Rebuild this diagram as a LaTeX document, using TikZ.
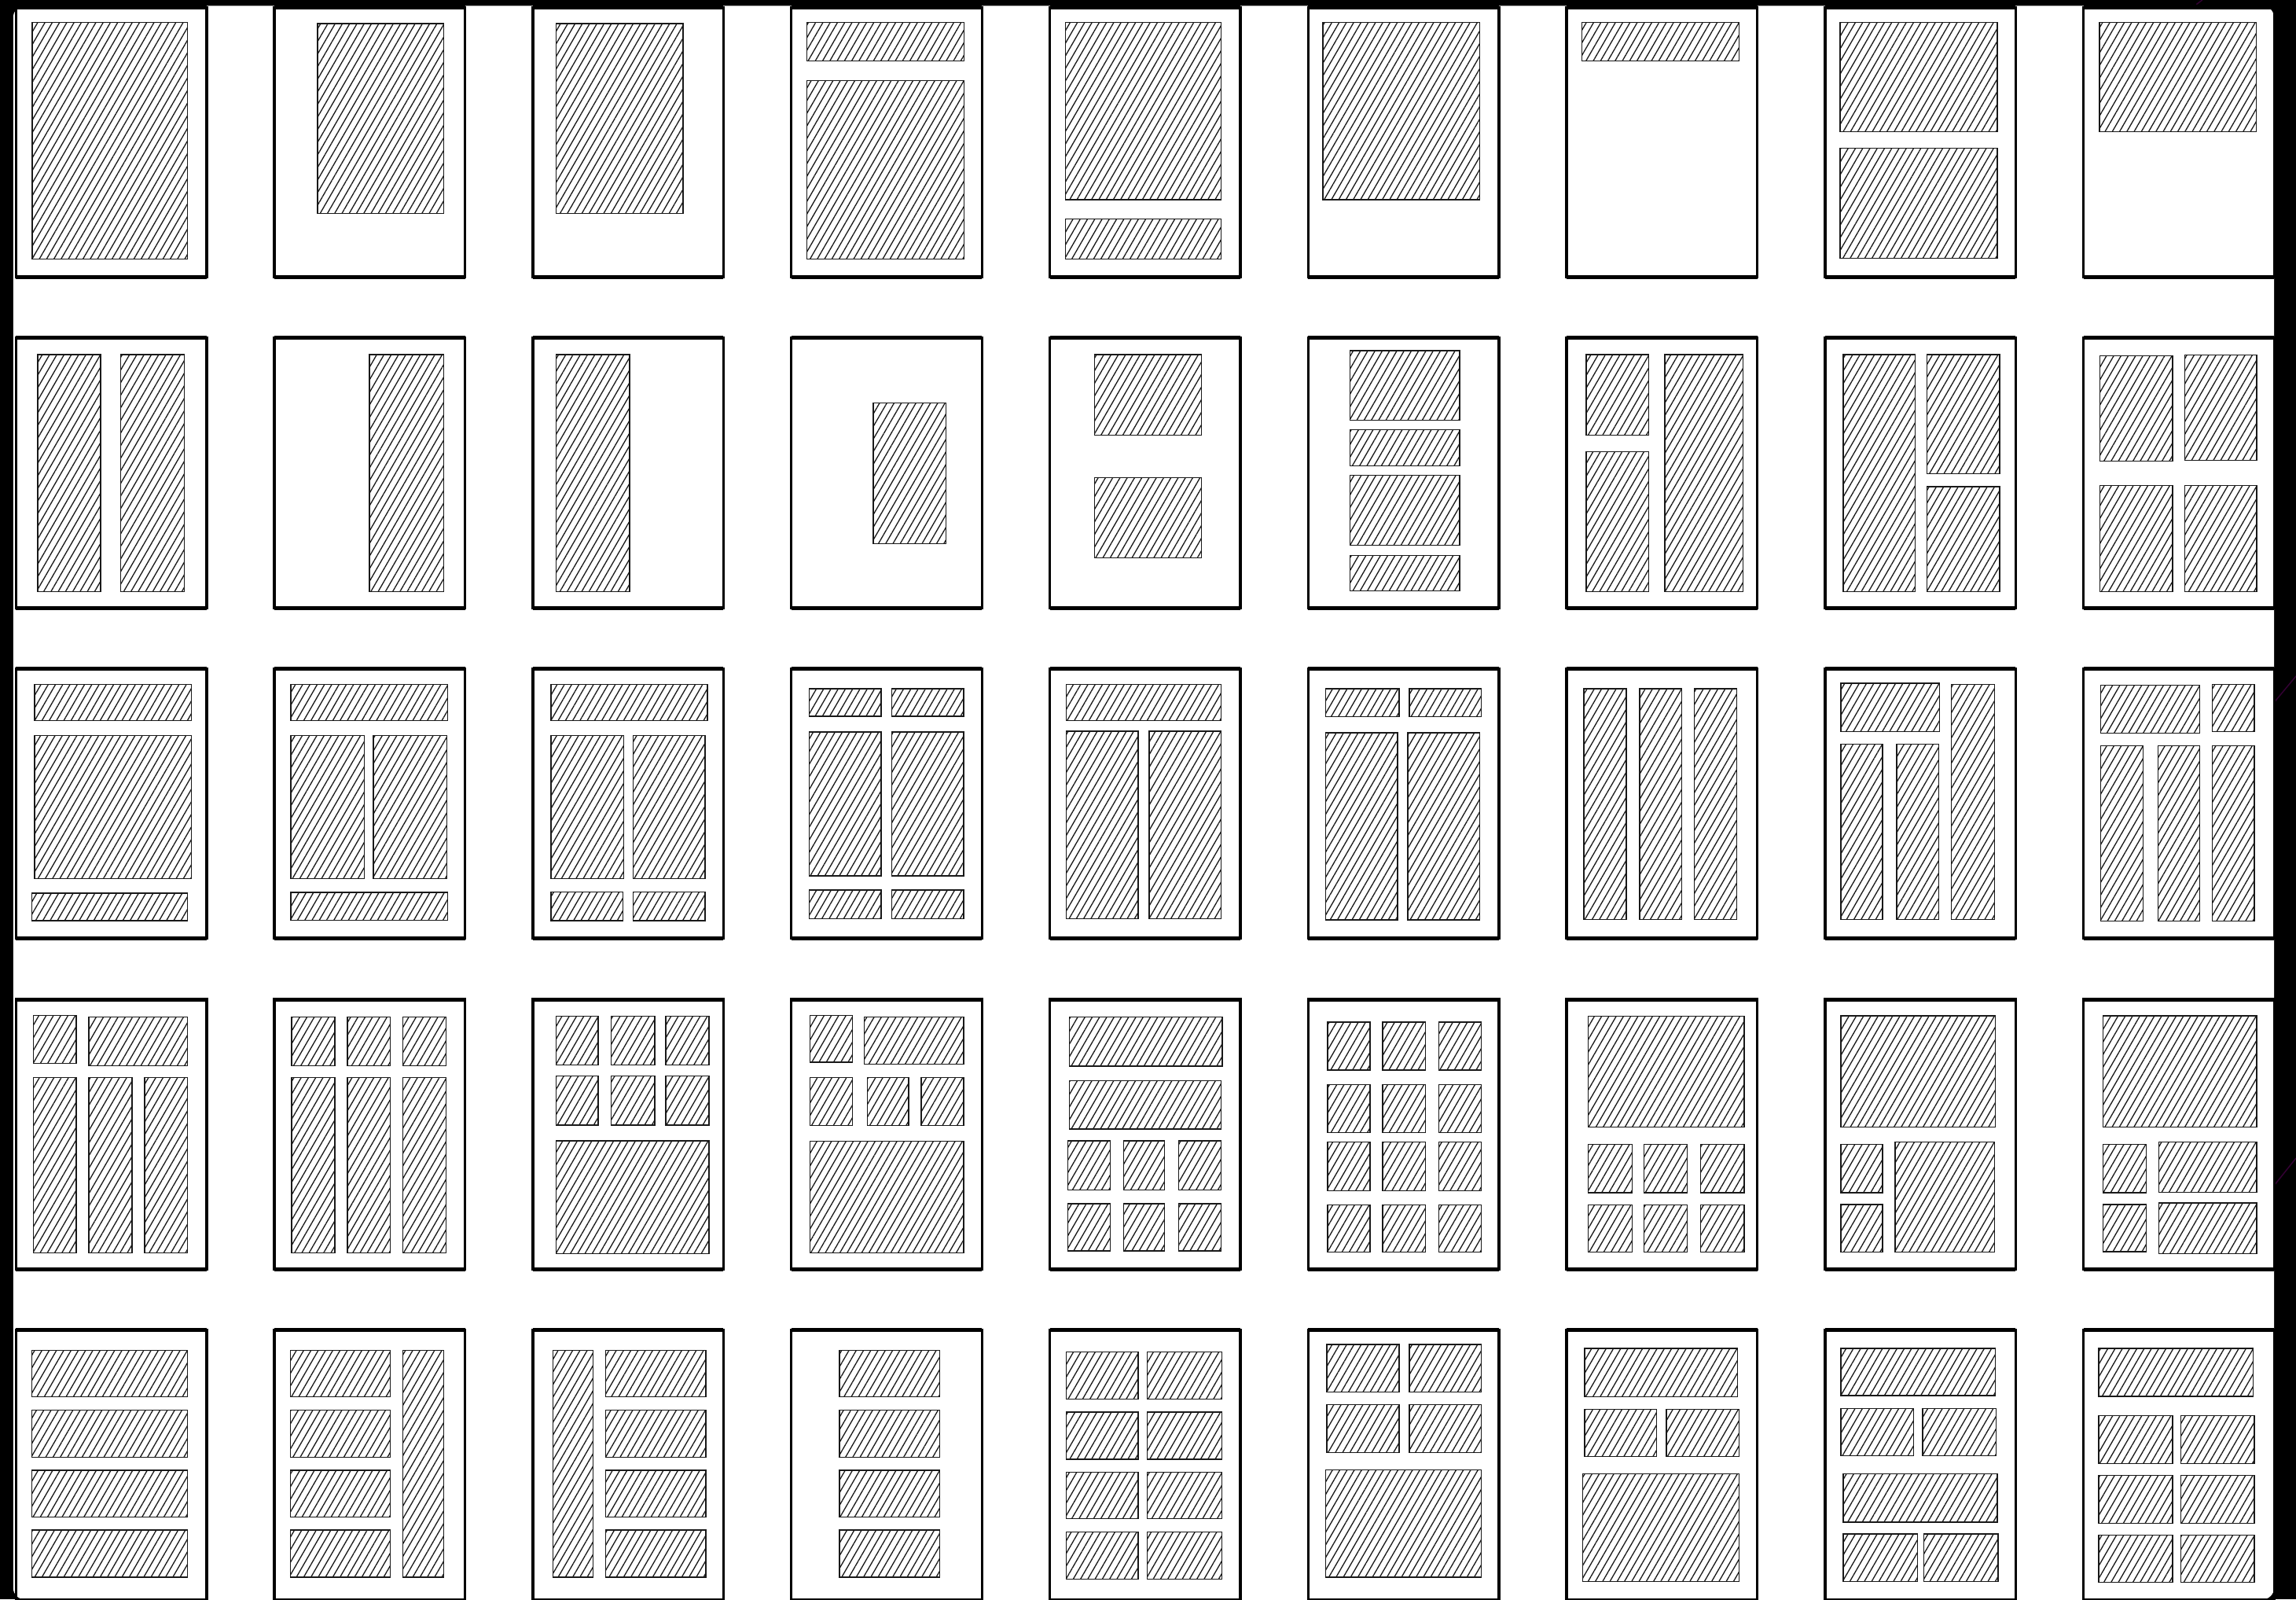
\documentclass[tikz,border=0pt]{standalone}
\usepackage{tikz}
\usetikzlibrary{patterns.meta}

% Pagina: colonna, riga, blocchi (x1/y1/x2/y2)
\newcommand{\pagina}[3]{%
  \begin{scope}[shift={({10+176.5*#1},{3.6+225.8*#2})}]
    \foreach \xa/\ya/\xb/\yb in {#3}
      \draw[blocco] (\xa,\ya) rectangle (\xb,\yb);
    \draw[foglio] (0.9,1.35) rectangle (131.1,185.6);
    \draw[bordo] (0.9,1.35) -- (131.1,1.35) (0.9,185.6) -- (131.1,185.6);
  \end{scope}}

\begin{document}
\begin{tikzpicture}[
      x=1pt, y=-1pt,
      foglio/.style={draw=black, line width=1.8pt},
      bordo/.style={draw=black, line width=2.7pt},
      blocco/.style={draw=black!90, line width=0.75pt,
        pattern={Lines[angle=60, distance=4.3pt, line width=0.7pt]},
        pattern color=black!90},
      tema/.style={draw=violet!40!black, line width=0.8pt}
    ]
    \useasboundingbox (0,0) rectangle (1568,1092);

    % Sfondo
    \fill[black] (0,0) rectangle (1568,1092);
    \draw[tema] (1500,3) -- (1504,0);
    \draw[tema] (1568,461.6) -- (1553.5,479);
    \draw[tema] (1568,790.7) -- (1553.5,808.8);
    \fill[white, rounded corners=8pt] (9,4) rectangle (1553,1092);

    % Riga 1
    \pagina{0}{0}{12/11.6/118/173.2}
    \pagina{1}{0}{30.4/12.5/116.5/142.2}
    \pagina{2}{0}{16.7/12.5/103.4/142.2}
    \pagina{3}{0}{11.5/11.6/119/37.9, 11.5/51.5/119/173.2}
    \pagina{4}{0}{11.5/11.6/118/132.7, 11.5/145.8/118/173.2}
    \pagina{5}{0}{11/11.6/118/132.7}
    \pagina{6}{0}{11.2/11.6/118.6/37.9}
    \pagina{7}{0}{11.2/11.6/118.6/86.2, 11.2/97.5/118.6/172.6}
    \pagina{8}{0}{11.7/11.6/119/86.2}

    % Riga 2
    \pagina{0}{1}{15.7/12.7/58.8/174.6, 72.5/12.7/116/174.6}
    \pagina{1}{1}{65.9/12.7/116.5/174.6}
    \pagina{2}{1}{16.7/12.7/66.9/174.6}
    \pagina{3}{1}{56.8/45.8/106.4/141.9}
    \pagina{4}{1}{31.4/12.7/104.6/67.6, 31.4/96.6/104.6/151.4}
    \pagina{5}{1}{29.4/10/104.4/57.4, 29.4/64/104.4/88.7, 29.4/95/104.4/142.8, 29.4/149.9/104.4/174.1}
    \pagina{6}{1}{14.2/12.7/56.8/67.6, 14.2/78.9/56.8/174.6, 67.9/12.7/121.2/174.6}
    \pagina{7}{1}{13.2/12.7/62.4/174.6, 70.5/12.7/120.2/94.1, 70.5/102.9/120.2/174.6}
    \pagina{8}{1}{12.2/13.6/61.8/85.5, 70/13.1/119.1/85, 12.2/102.2/61.8/174.6, 70/102.2/119.1/174.6}

    % Riga 3
    \pagina{0}{2}{13.7/12.2/120.6/36.9, 13.7/46.9/120.6/144.6, 11.7/154.6/118.1/173.4}
    \pagina{1}{2}{12.2/12.2/119.1/36.9, 12.2/46.9/62.3/144.6, 68.4/46.9/118.6/144.6, 12.2/154/119.1/173.2}
    \pagina{2}{2}{13.2/12.2/120.1/36.9, 13.2/46.9/62.8/144.6, 69.4/46.9/118.6/144.6, 13.2/153.8/62.3/173.4, 69.4/153.8/118.6/173.4}
    \pagina{3}{2}{13.2/15/62.3/33.8, 69.4/15/118.6/33.8, 13.2/44.6/62.3/142.8, 69.4/44.6/118.6/142.8, 13.2/152.4/62.3/171.9, 69.4/152.4/118.6/171.9}
    \pagina{4}{2}{12.2/12.2/117.8/36.9, 12.2/44/61.3/171.9, 68.9/44/117.8/171.9}
    \pagina{5}{2}{12.7/15/62.9/34.2, 70/15/119.1/34.2, 12.7/45.1/61.9/172.8, 69/45.1/118.1/172.8}
    \pagina{6}{2}{12.7/15/41.6/172.5, 50.7/15/79.6/172.5, 88.2/15/117.1/172.5}
    \pagina{7}{2}{11.7/11.3/79.1/44.4, 87.2/12.2/116.6/172.5, 11.7/53/40.1/172.5, 49.7/53/78.6/172.5}
    \pagina{8}{2}{12.7/12.7/80.1/45.5, 88.7/12.2/117.6/44.4, 12.7/53.9/41.6/173.7, 51.7/53.9/80.1/173.7, 88.7/53.9/117.6/173.7}

    % Riga 4
    \pagina{0}{3}{12.7/12.3/42.1/45.1, 50.7/13.4/118.1/46.5, 12.7/54.6/42.1/174.4, 50.7/54.6/80.1/174.4, 88.7/54.6/118.1/174.4}
    \pagina{1}{3}{12.7/13.4/42.1/46.5, 50.7/13.4/80.1/46.5, 88.7/13.4/118.1/46.5, 12.7/54.6/42.1/174.4, 50.7/54.6/80.1/174.4, 88.7/54.6/118.1/174.4}
    \pagina{2}{3}{16.7/12.9/45.6/46, 54.2/12.9/84.1/46, 91.7/12.9/121.1/46, 16.7/53.7/45.6/87.1, 54.2/53.7/84.1/87.1, 91.7/53.7/121.1/87.1, 16.7/97.9/121.1/174.8}
    \pagina{3}{3}{13.7/12.3/42.6/44.2, 50.7/13.2/118.6/45.4, 13.7/54.6/42.6/87.5, 52.7/54.6/81.1/87.5, 89.7/54.6/118.6/87.5, 13.7/98.2/118.6/174.4}
    \pagina{4}{3}{14.2/13.4/118.8/46.9, 14.2/56.7/117.8/89.8, 13.2/97.9/42.1/131.3, 51.2/97.9/79.3/131.3, 88.9/97.9/117.8/131.3, 13.2/140.8/42.1/173, 51.2/140.8/79.3/173, 88.9/140.8/117.8/173}
    \pagina{5}{3}{14.2/16.8/43.1/49.6, 51.7/16.8/81.1/49.6, 90.2/16.8/119.1/49.6, 14.2/59.4/43.1/92.1, 51.7/59.4/81.1/92.1, 90.2/59.4/119.1/92.1, 14.2/98.8/43.1/131.9, 51.7/98.8/81.1/131.9, 90.2/98.8/119.1/131.9, 14.2/141.7/43.1/173.9, 51.7/141.7/81.1/173.9, 90.2/141.7/119.1/173.9}
    \pagina{6}{3}{15.7/12.9/122.2/88.6, 15.7/100.2/45.6/133.3, 53.7/100.2/83.1/133.3, 92.3/100.2/122.2/133.3, 15.7/141.7/45.6/173.9, 53.7/141.7/83.1/173.9, 92.3/141.7/122.2/173.9}
    \pagina{7}{3}{11.7/12.5/117.1/88.6, 11.7/100.2/40.1/133.3, 11.7/141.3/40.1/173.9, 48.7/98.8/116.6/173.9}
    \pagina{8}{3}{14.2/12.5/119.1/88.6, 14.2/100.2/43.6/133.3, 14.2/141.3/43.6/173.6, 52.2/98.8/119.1/133.1, 52.2/140.3/119.1/174.8}

    % Riga 5
    \pagina{0}{4}{11.7/15/118.1/46.9, 11.7/55.8/118.1/88.1, 11.7/96.9/118.1/128.8, 11.7/137.8/118.1/170}
    \pagina{1}{4}{11.7/15/80.1/46.9, 11.7/55.8/80.1/88.1, 11.7/96.9/80.1/128.8, 11.7/137.8/80.1/170, 88.7/15/116.5/170}
    \pagina{2}{4}{14.7/15/42.1/170, 50.7/15/119.1/46.9, 50.7/55.8/119.1/88.1, 50.7/96.9/119.1/128.8, 50.7/137.8/119.1/170}
    \pagina{3}{4}{33.9/15/102.3/46.9, 33.9/55.8/102.3/88.1, 33.9/96.9/102.3/128.8, 33.9/137.8/102.3/170}
    \pagina{4}{4}{12.2/16.1/61.3/48.3, 67.6/16.1/118.3/48.3, 12.2/57.2/61.3/89.4, 67.6/57.2/118.3/89.4, 12.2/98.2/61.3/130.1, 67.6/98.2/118.3/130.1, 12.2/139/61.3/171.2, 67.6/139/118.3/171.2}
    \pagina{5}{4}{13.7/11.1/62.9/43.7, 70/11.1/119.1/43.7, 13.7/52.2/62.9/85, 70/52.2/119.1/85, 12.7/96.6/119.1/170}
    \pagina{6}{4}{13.2/13.8/117.6/46.9, 13.2/55.5/62.4/87.7, 69/55.5/118.6/87.7, 11.7/99.3/118.6/173}
    \pagina{7}{4}{11.7/13.8/117.1/46, 11.7/54.9/61.3/87.1, 67.4/54.9/117.6/87.1, 13.2/99.3/118.6/132.4, 13.2/140.4/63.9/173, 68.4/140.4/119.1/173}
    \pagina{8}{4}{11.2/13.8/116.6/46.5, 11.2/59.8/61.8/92.5, 67.4/59.8/117.6/92.5, 11.2/100.5/61.8/133.1, 67.4/100.5/117.6/133.1, 11.2/141.3/61.8/173.5, 67.4/141.3/117.6/173.5}
  \end{tikzpicture}
\end{document}
